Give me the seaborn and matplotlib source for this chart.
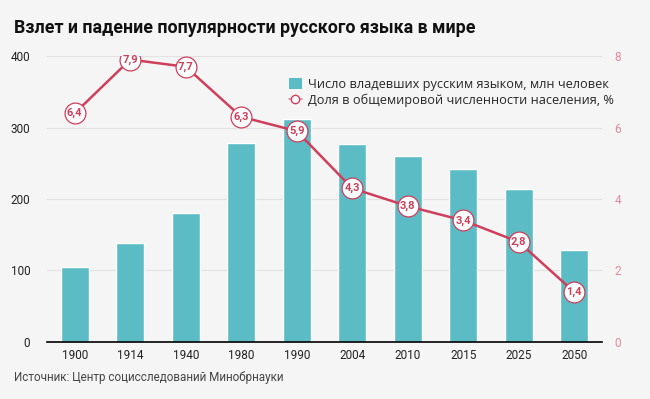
import numpy as np
import seaborn as sns
import matplotlib.pyplot as plt
from matplotlib.patches import Patch
from matplotlib.lines import Line2D

# ─────────────────────────────────────────
# Data
# ─────────────────────────────────────────
years = ["1900", "1914", "1940", "1980", "1990", "2004", "2010", "2015", "2025", "2050"]
speakers = [105, 139, 180, 279, 312, 277, 260, 242, 214, 129]   # mln people
share = [6.4, 7.9, 7.7, 6.3, 5.9, 4.3, 3.8, 3.4, 2.8, 1.4]      # % of world population

title = "Взлет и падение популярности русского языка в мире"
source = "Источник: Центр социсследований Минобрнауки"
bar_label = "Число владевших русским языком, млн человек"
line_label = "Доля в общемировой численности населения, %"

BG = "#f5f5f5"
TEAL = "#5bbcc6"
RED = "#cf3f5b"
PINK = "#e3899b"

sns.set_theme(style="white")
plt.rcParams["font.family"] = ["Roboto", "DejaVu Sans"]

fig = plt.figure(figsize=(6.5, 3.99), dpi=100, facecolor=BG)
ax = fig.add_axes([0.0723, 0.1429, 0.8537, 0.7167])
ax.set_facecolor(BG)

# ─────────────────────────────────────────
# Bars
# ─────────────────────────────────────────
sns.barplot(x=years, y=speakers, color=TEAL, width=0.5, saturation=1, ax=ax, zorder=2)
ax.set_ylim(0, 400)
ax.set_xlim(-0.5, len(years) - 0.5)
ax.set_yticks([0, 100, 200, 300, 400])
for v in [100, 200, 300, 400]:
    ax.axhline(v, color="#e2e2e2", lw=0.8, zorder=0)
for s in ["top", "right", "left"]:
    ax.spines[s].set_visible(False)
ax.spines["bottom"].set_color("black")
ax.spines["bottom"].set_linewidth(1.2)
ax.spines["bottom"].set_zorder(3)
ax.tick_params(axis="both", length=0, labelsize=8.5, colors="#222222")
ax.tick_params(axis="x", pad=5)
ax.tick_params(axis="y", pad=12)
ax.set_xlabel("")
ax.set_ylabel("")

# ─────────────────────────────────────────
# Line on the right axis
# ─────────────────────────────────────────
ax2 = ax.twinx()
ax2.patch.set_visible(False)
x_pos = np.arange(len(years))
ax2.plot(x_pos, share, color=RED, lw=1.8, marker="o", markersize=15,
         markerfacecolor="white", markeredgecolor=RED, markeredgewidth=0.9, zorder=4)
for i, v in enumerate(share):
    ax2.text(i, v, f"{v}".replace(".", ","), ha="center", va="center",
             fontsize=8, fontweight="bold", color=RED, zorder=5)
ax2.set_ylim(0, 8)
ax2.set_yticks([0, 2, 4, 6, 8])
ax2.set_xlim(-0.5, len(years) - 0.5)
for s in ax2.spines.values():
    s.set_visible(False)
ax2.tick_params(axis="y", length=0, labelsize=8.5, colors=PINK, pad=9)

# ─────────────────────────────────────────
# Legend, title, source
# ─────────────────────────────────────────
handles = [
    Patch(facecolor=TEAL, edgecolor="none"),
    Line2D([0], [0], color=PINK, lw=1.2, marker="o", markersize=6,
           markerfacecolor="white", markeredgecolor=RED, markeredgewidth=1.0),
]
leg = fig.legend(handles, [bar_label, line_label], loc="upper left",
                 bbox_to_anchor=(0.427, 0.834), frameon=False,
                 handlelength=1.0, handleheight=1.0, handletextpad=0.5,
                 labelspacing=0.2, prop={"family": ["Open Sans", "DejaVu Sans"], "size": 9.2})

fig.text(0.022, 0.93, title, fontsize=12.8, fontweight="bold", color="#111111",
         ha="left", va="center")
fig.text(0.022, 0.055, source, fontsize=8.4, color="#444444", ha="left", va="center")

fig.savefig("out.png", dpi=100, facecolor=BG)
